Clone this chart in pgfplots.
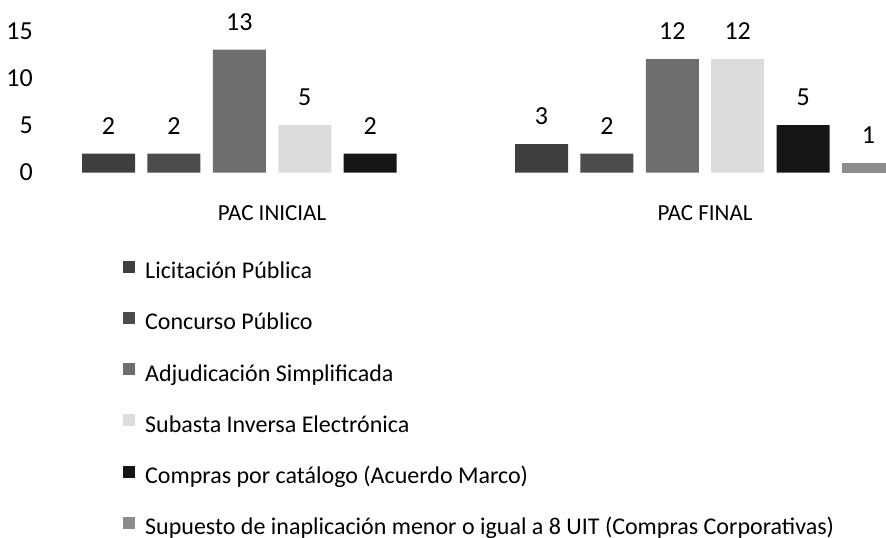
\documentclass[border=0pt]{standalone}
\usepackage{fontspec}
\setmainfont{Carlito}
\usepackage{pgfplots}
\pgfplotsset{compat=1.18}

\definecolor{licit}{HTML}{3E3E3E}
\definecolor{concu}{HTML}{4C4C4C}
\definecolor{adjud}{HTML}{6E6E6E}
\definecolor{subas}{HTML}{DCDCDC}
\definecolor{compr}{HTML}{161616}
\definecolor{supue}{HTML}{8C8C8C}

\begin{document}
\begin{tikzpicture}
\begin{axis}[
  scale only axis,
  width=846bp, height=172.5bp,
  xmin=-0.536, xmax=1.418,
  ymin=0, ymax=18.25,
  ybar=12.4bp, bar width=53bp,
  axis line style={draw=none},
  tick style={draw=none},
  xtick={0,1}, xticklabels={PAC INICIAL, PAC FINAL},
  ytick={0,5,10,15},
  /pgf/number format/assume math mode=true,
  yticklabel style={font=\fontsize{26bp}{31bp}\selectfont, anchor=east, inner sep=0pt, xshift=-7bp},
  xticklabel style={font=\fontsize{23bp}{28bp}\selectfont, anchor=north, inner sep=0pt, yshift=-29bp},
  nodes near coords,
  every node near coord/.append style={font=\fontsize{26bp}{31bp}\selectfont, inner sep=0pt, anchor=south, yshift=19bp},
  legend cell align=left,
  legend image code/.code={\fill[#1,draw=none] (0bp,1bp) rectangle (12bp,13bp);},
  legend style={draw=none, fill=none, inner sep=0pt,
    at={(0.0981,-0.5101)}, anchor=north west,
    font=\fontsize{24bp}{29bp}\selectfont,
    row sep=28.2bp,
    nodes={inner sep=0pt, text height=15bp, text depth=5bp},
    /tikz/every odd column/.append style={column sep=10bp}},
]
% Licitacion Publica
\addplot[fill=licit, draw=none] coordinates {(0,2) (1,3)};
% Concurso Publico
\addplot[fill=concu, draw=none] coordinates {(0,2) (1,2)};
% Adjudicacion Simplificada
\addplot[fill=adjud, draw=none] coordinates {(0,13) (1,12)};
% Subasta Inversa Electronica
\addplot[fill=subas, draw=none] coordinates {(0,5) (1,12)};
% Compras por catalogo
\addplot[fill=compr, draw=none] coordinates {(0,2) (1,5)};
% Supuesto de inaplicacion (nothing in PAC INICIAL)
\addplot[fill=supue, draw=none] coordinates {(1,1)};
\legend{Licitación Pública, Concurso Público, Adjudicación Simplificada,
  Subasta Inversa Electrónica, Compras por catálogo (Acuerdo Marco),
  Supuesto de inaplicación menor o igual a 8 UIT (Compras Corporativas)}
\end{axis}
\pgfresetboundingbox
\path[use as bounding box] ([xshift=-40bp]current axis.north west) rectangle ([yshift=-365.5bp]current axis.south east);
\end{tikzpicture}
\end{document}
